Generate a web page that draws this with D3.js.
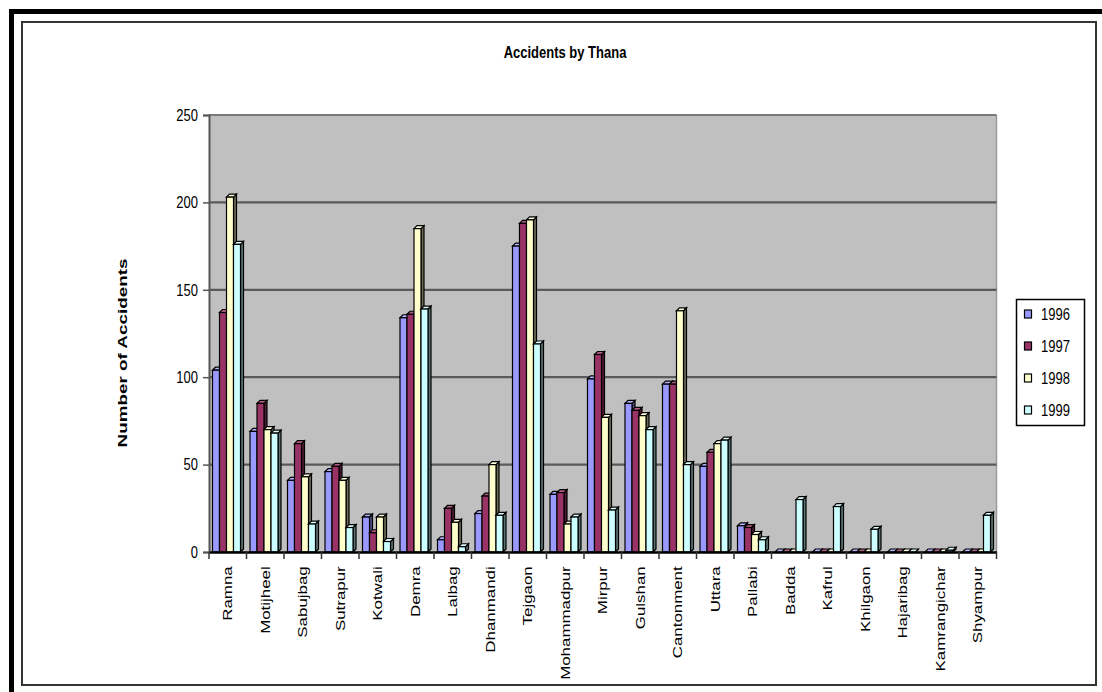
<!DOCTYPE html>
<html>
<head>
<meta charset="utf-8">
<script src="https://cdn.jsdelivr.net/npm/d3@7/dist/d3.min.js"></script>
<style>
  html, body { margin: 0; padding: 0; background: #fff; }
  svg { display: block; font-family: "Liberation Sans", Arial, sans-serif; }
</style>
</head>
<body>
<svg id="chart" width="1102" height="692"></svg>
<script>
// Police stations (thanas) of Dhaka
const thanas = ["Ramna", "Motijheel", "Sabujbag", "Sutrapur", "Kotwali", "Demra", "Lalbag",
  "Dhanmandi", "Tejgaon", "Mohammadpur", "Mirpur", "Gulshan", "Cantonment", "Uttara",
  "Pallabi", "Badda", "Kafrul", "Khilgaon", "Hajaribag", "Kamrangichar", "Shyampur"];

const years = ["1996", "1997", "1998", "1999"];

// Accident counts per thana, one array per year
const acc1996 = [104, 69, 41, 46, 20, 134, 7, 22, 175, 33, 99, 85, 96, 49, 15, 0, 0, 0, 0, 0, 0];
const acc1997 = [137, 85, 62, 49, 11, 136, 25, 32, 188, 34, 113, 81, 96, 57, 14, 0, 0, 0, 0, 0, 0];
const acc1998 = [203, 70, 43, 41, 20, 185, 17, 50, 190, 16, 77, 78, 138, 62, 10, 0, 0, 0, 0, 0, 0];
const acc1999 = [176, 68, 16, 14, 6, 139, 3, 21, 119, 20, 24, 70, 50, 64, 7, 30, 26, 13, 0, 1, 21];
const seriesValues = [acc1996, acc1997, acc1998, acc1999];

const yTicks = [0, 50, 100, 150, 200, 250];

const frontColors = ["#9999ff", "#993366", "#ffffcc", "#ccffff"];
const sideColors  = ["#4d4d80", "#4d1a33", "#6b6b55", "#5a7373"];
const topColors   = ["#b3b3ff", "#b35c85", "#ffffe0", "#e0ffff"];

const FONT = "'Liberation Sans', Arial, sans-serif";
const svg = d3.select("#chart");

// Page frame
svg.append("path")
  .attr("d", "M11.5,692 V11.5 H1102")
  .attr("fill", "none").attr("stroke", "#000").attr("stroke-width", 5);
svg.append("rect")
  .attr("x", 22).attr("y", 22).attr("width", 1074).attr("height", 663)
  .attr("fill", "#fff").attr("stroke", "#333").attr("stroke-width", 2);

const plot = { left: 209, right: 996.5, top: 115, bottom: 552 };

const x = d3.scaleBand().domain(thanas).range([plot.left, plot.right]).padding(0);
const y = d3.scaleLinear().domain([0, 250]).range([plot.bottom, plot.top]);
const xs = d3.scaleBand().domain(years).range([3.5, 31.5]).padding(0);

// Plot background
svg.append("rect")
  .attr("x", plot.left).attr("y", plot.top)
  .attr("width", plot.right - plot.left).attr("height", plot.bottom - plot.top)
  .attr("fill", "#c0c0c0");
svg.append("line")
  .attr("x1", plot.right).attr("x2", plot.right).attr("y1", plot.top).attr("y2", plot.bottom)
  .attr("stroke", "#9a9a9a").attr("stroke-width", 1.5);

// Gridlines
svg.append("g").selectAll("line")
  .data(yTicks.filter(t => t > 0))
  .join("line")
  .attr("x1", plot.left).attr("x2", plot.right)
  .attr("y1", d => y(d)).attr("y2", d => y(d))
  .attr("stroke", d => d === 250 ? "#7a7a7a" : "#5a5a5a")
  .attr("stroke-width", 2.2);

// Y axis
const yAxis = svg.append("g")
  .attr("transform", `translate(${plot.left},0)`)
  .call(d3.axisLeft(y).tickValues(yTicks).tickSize(6).tickPadding(5));
yAxis.select(".domain").attr("stroke", "#555").attr("stroke-width", 2);
yAxis.selectAll(".tick line").attr("stroke", "#555").attr("stroke-width", 1.5);
yAxis.selectAll(".tick text").attr("font-size", 13).attr("fill", "#000")
  .attr("font-family", FONT)
  .attr("transform", "scale(1,1.25)");

// Bars with a small 3-D depth
const dx = 3, dy = 3;
const fw = xs.bandwidth();
const bars = svg.append("g");
thanas.forEach((t, i) => {
  years.forEach((yr, s) => {
    const v = seriesValues[s][i];
    const x0 = x(t) + xs(yr);
    const y1 = y(v), y0 = y(0);
    const g = bars.append("g");
    // side face
    g.append("path")
      .attr("d", `M${x0 + fw},${y1} L${x0 + fw + dx},${y1 - dy} L${x0 + fw + dx},${y0 - dy} L${x0 + fw},${y0} Z`)
      .attr("fill", sideColors[s]).attr("stroke", "#000").attr("stroke-width", 1.2);
    // top face
    g.append("path")
      .attr("d", `M${x0},${y1} L${x0 + dx},${y1 - dy} L${x0 + fw + dx},${y1 - dy} L${x0 + fw},${y1} Z`)
      .attr("fill", topColors[s]).attr("stroke", "#000").attr("stroke-width", 1.2);
    // front face
    g.append("rect")
      .attr("x", x0).attr("y", y1)
      .attr("width", fw).attr("height", y0 - y1)
      .attr("fill", frontColors[s]).attr("stroke", "#000").attr("stroke-width", 1.2);
  });
});

// X axis
const xAxis = svg.append("g")
  .attr("transform", `translate(0,${plot.bottom})`)
  .call(d3.axisBottom(x).tickSize(0).tickPadding(0));
xAxis.select(".domain").attr("stroke", "#000").attr("stroke-width", 2.5);
xAxis.selectAll(".tick text")
  .attr("font-size", 13).attr("fill", "#000")
  .attr("font-family", FONT)
  .attr("text-anchor", "end")
  .attr("transform", "rotate(-90) scale(1.3,1)")
  .attr("x", -11).attr("y", 0).attr("dy", "0.35em");
// boundary tick marks
svg.append("g").selectAll("line")
  .data(d3.range(thanas.length + 1))
  .join("line")
  .attr("x1", i => plot.left + i * x.step()).attr("x2", i => plot.left + i * x.step())
  .attr("y1", plot.bottom).attr("y2", plot.bottom + 7)
  .attr("stroke", "#333").attr("stroke-width", 1.5);

// Title and axis title
svg.append("text")
  .attr("transform", "translate(565,58) scale(1,1.25)")
  .attr("text-anchor", "middle")
  .attr("font-size", 13).attr("font-weight", "bold")
  .text("Accidents by Thana");
svg.append("text")
  .attr("transform", "translate(127,353) rotate(-90) scale(1.45,1)")
  .attr("text-anchor", "middle")
  .attr("font-size", 13).attr("font-weight", "bold")
  .text("Number of Accidents");

// Legend
const legend = svg.append("g");
legend.append("rect")
  .attr("x", 1016.5).attr("y", 299.5).attr("width", 68).attr("height", 126)
  .attr("fill", "#fff").attr("stroke", "#000").attr("stroke-width", 1.5);
years.forEach((yr, s) => {
  const cy = 314 + s * 32;
  legend.append("rect")
    .attr("x", 1024.5).attr("y", cy - 4).attr("width", 7).attr("height", 8)
    .attr("fill", frontColors[s]).attr("stroke", "#000").attr("stroke-width", 1.2);
  legend.append("text")
    .attr("transform", `translate(1041,${cy}) scale(1,1.25)`)
    .attr("dy", "0.36em")
    .attr("font-size", 13).text(yr);
});
</script>
</body>
</html>
